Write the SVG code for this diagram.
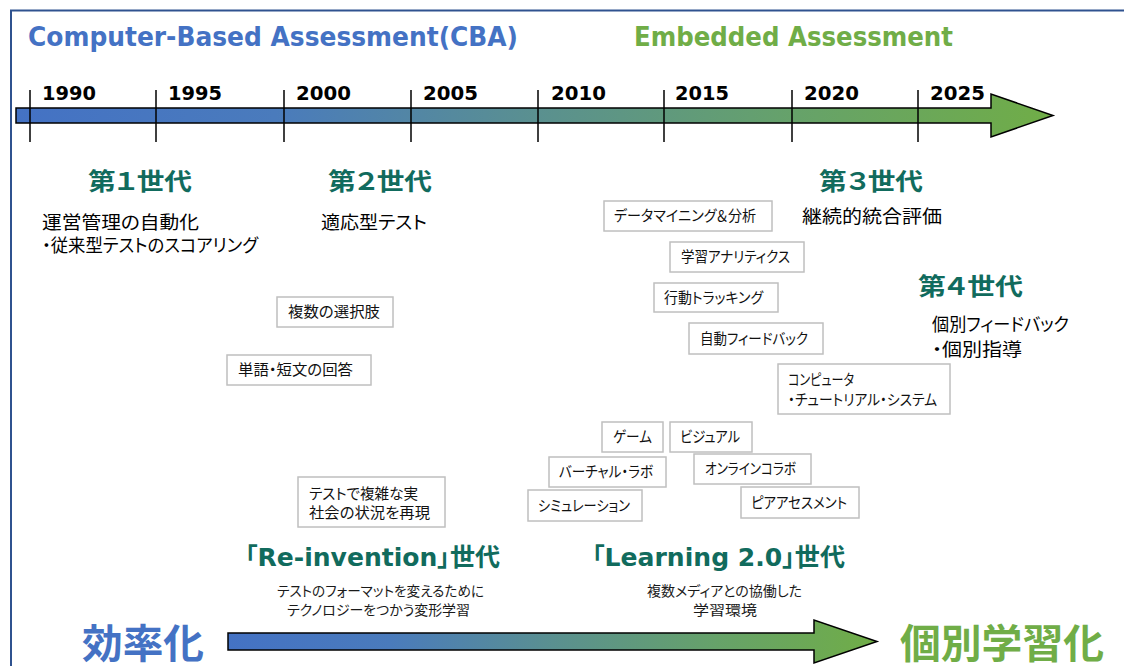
<svg xmlns="http://www.w3.org/2000/svg" width="1124" height="666" viewBox="0 0 1124 666">
  <defs>
    <linearGradient id="gradTop" gradientUnits="userSpaceOnUse" x1="16" y1="0" x2="1053" y2="0">
      <stop offset="0" stop-color="#4472C4"/>
      <stop offset="0.25" stop-color="#4A7BBC"/>
      <stop offset="0.5" stop-color="#5A9090"/>
      <stop offset="0.75" stop-color="#66A26A"/>
      <stop offset="1" stop-color="#70AD47"/>
    </linearGradient>
    <linearGradient id="gradBottom" gradientUnits="userSpaceOnUse" x1="228" y1="0" x2="877" y2="0">
      <stop offset="0" stop-color="#4472C4"/>
      <stop offset="0.25" stop-color="#4A7BBC"/>
      <stop offset="0.5" stop-color="#5A9090"/>
      <stop offset="0.75" stop-color="#66A26A"/>
      <stop offset="1" stop-color="#70AD47"/>
    </linearGradient>
    <style>
      .jp { font-family: "Noto Sans CJK JP", "Noto Sans CJK SC", sans-serif; font-feature-settings: "palt"; }
      .lat { font-family: "DejaVu Sans", "Noto Sans CJK JP", sans-serif; font-weight: 700; }
      .gen { font-weight: 700; font-size: 24px; fill: #116B5D; }
      .era { font-size: 25px; fill: #116B5D; font-feature-settings: "palt"; }
      .body { font-size: 18px; fill: #000; }
      .sub { font-size: 14px; fill: #1a1a1a; }
      .box rect { fill: #fff; stroke: #BFBFBF; stroke-width: 1.5; }
      .box text { font-size: 15px; fill: #111; }
      .year { font-size: 20px; fill: #000; }
      .tick { stroke: #000; stroke-width: 1.5; }
      .arrow { stroke: #000; stroke-width: 1.5; stroke-linejoin: miter; }
      .big { font-weight: 700; font-size: 40px; }
    </style>
  </defs>

  <rect width="1124" height="666" fill="#fff"/>

  <!-- outer frame (left and top edges) -->
  <path d="M11,666 V10.5 H1124" fill="none" stroke="#2F528F" stroke-width="2"/>

  <!-- section titles -->
  <g id="title-cba">
    <text class="lat" x="28" y="46" font-size="26" fill="#4472C4" textLength="490" lengthAdjust="spacingAndGlyphs">Computer-Based Assessment(CBA)</text>
  </g>
  <g id="title-embedded">
    <text class="lat" x="634" y="46" font-size="26" fill="#70AD47" textLength="319" lengthAdjust="spacingAndGlyphs">Embedded Assessment</text>
  </g>

  <!-- arrows and timeline -->
  <g id="connectors">
    <polygon class="arrow" fill="url(#gradTop)" points="16,108 991,108 991,94 1053,115.5 991,137 991,123 16,123"/>
    <g id="ticks">
      <line class="tick" x1="30" y1="90" x2="30" y2="142"/>
      <line class="tick" x1="156" y1="90" x2="156" y2="142"/>
      <line class="tick" x1="284" y1="90" x2="284" y2="142"/>
      <line class="tick" x1="411" y1="90" x2="411" y2="142"/>
      <line class="tick" x1="538" y1="90" x2="538" y2="142"/>
      <line class="tick" x1="664" y1="90" x2="664" y2="142"/>
      <line class="tick" x1="792" y1="90" x2="792" y2="142"/>
      <line class="tick" x1="918" y1="90" x2="918" y2="142"/>
    </g>
    <polygon class="arrow" fill="url(#gradBottom)" points="228,633 814,633 814,620 877,641.5 814,663 814,650 228,650"/>
  </g>

  <g id="years">
    <text class="lat year" x="42" y="100" textLength="54" lengthAdjust="spacingAndGlyphs">1990</text>
    <text class="lat year" x="168" y="100" textLength="54" lengthAdjust="spacingAndGlyphs">1995</text>
    <text class="lat year" x="296" y="100" textLength="55" lengthAdjust="spacingAndGlyphs">2000</text>
    <text class="lat year" x="423" y="100" textLength="55" lengthAdjust="spacingAndGlyphs">2005</text>
    <text class="lat year" x="551" y="100" textLength="55" lengthAdjust="spacingAndGlyphs">2010</text>
    <text class="lat year" x="675" y="100" textLength="54" lengthAdjust="spacingAndGlyphs">2015</text>
    <text class="lat year" x="804" y="100" textLength="55" lengthAdjust="spacingAndGlyphs">2020</text>
    <text class="lat year" x="930" y="100" textLength="55" lengthAdjust="spacingAndGlyphs">2025</text>
  </g>

  <!-- generations -->
  <g id="gen1">
    <text class="jp gen" x="88" y="190" textLength="104" lengthAdjust="spacingAndGlyphs">第１世代</text>
    <text class="jp body" x="42" y="229" textLength="157" lengthAdjust="spacingAndGlyphs">運営管理の自動化</text>
    <text class="jp body" x="42" y="252" textLength="216" lengthAdjust="spacingAndGlyphs">・従来型テストのスコアリング</text>
  </g>
  <g id="gen2">
    <text class="jp gen" x="328" y="190" textLength="104" lengthAdjust="spacingAndGlyphs">第２世代</text>
    <text class="jp body" x="321" y="229" textLength="106" lengthAdjust="spacingAndGlyphs">適応型テスト</text>
  </g>
  <g id="gen3">
    <text class="jp gen" x="819" y="190" textLength="104" lengthAdjust="spacingAndGlyphs">第３世代</text>
    <text class="jp body" x="802" y="223" textLength="140" lengthAdjust="spacingAndGlyphs">継続的統合評価</text>
  </g>
  <g id="gen4">
    <text class="jp gen" x="918" y="295" textLength="105" lengthAdjust="spacingAndGlyphs">第４世代</text>
    <text class="jp body" x="932" y="331" textLength="137" lengthAdjust="spacingAndGlyphs">個別フィードバック</text>
    <text class="jp body" x="932" y="356" textLength="90" lengthAdjust="spacingAndGlyphs">・個別指導</text>
  </g>

  <!-- feature boxes -->
  <g id="box-multiple-choice" class="box jp">
    <rect x="277" y="297" width="116" height="30"/>
    <text x="288" y="317" textLength="92" lengthAdjust="spacingAndGlyphs">複数の選択肢</text>
  </g>
  <g id="box-short-answer" class="box jp">
    <rect x="227" y="355" width="144" height="30"/>
    <text x="238" y="375" textLength="115" lengthAdjust="spacingAndGlyphs">単語・短文の回答</text>
  </g>
  <g id="box-data-mining" class="box jp">
    <rect x="604" y="201" width="168" height="30"/>
    <text x="614" y="221" textLength="142" lengthAdjust="spacingAndGlyphs">データマイニング＆分析</text>
  </g>
  <g id="box-learning-analytics" class="box jp">
    <rect x="670" y="242" width="134" height="30"/>
    <text x="681" y="262" textLength="109" lengthAdjust="spacingAndGlyphs">学習アナリティクス</text>
  </g>
  <g id="box-behavior-tracking" class="box jp">
    <rect x="654" y="283" width="124" height="29"/>
    <text x="664" y="303" textLength="99" lengthAdjust="spacingAndGlyphs">行動トラッキング</text>
  </g>
  <g id="box-auto-feedback" class="box jp">
    <rect x="689" y="323" width="134" height="31"/>
    <text x="700" y="344" textLength="108" lengthAdjust="spacingAndGlyphs">自動フィードバック</text>
  </g>
  <g id="box-tutorial-system" class="box jp">
    <rect x="778" y="364" width="172" height="50"/>
    <text x="788" y="385" textLength="66" lengthAdjust="spacingAndGlyphs">コンピュータ</text>
    <text x="788" y="405" textLength="149" lengthAdjust="spacingAndGlyphs">・チュートリアル・システム</text>
  </g>
  <g id="box-game" class="box jp">
    <rect x="602" y="422" width="61" height="30"/>
    <text x="613" y="442" textLength="39" lengthAdjust="spacingAndGlyphs">ゲーム</text>
  </g>
  <g id="box-visual" class="box jp">
    <rect x="670" y="422" width="82" height="30"/>
    <text x="680" y="442" textLength="60" lengthAdjust="spacingAndGlyphs">ビジュアル</text>
  </g>
  <g id="box-virtual-lab" class="box jp">
    <rect x="549" y="457" width="117" height="30"/>
    <text x="559" y="477" textLength="94" lengthAdjust="spacingAndGlyphs">バーチャル・ラボ</text>
  </g>
  <g id="box-online-collab" class="box jp">
    <rect x="694" y="454" width="117" height="30"/>
    <text x="705" y="474" textLength="91" lengthAdjust="spacingAndGlyphs">オンラインコラボ</text>
  </g>
  <g id="box-simulation" class="box jp">
    <rect x="528" y="490" width="114" height="31"/>
    <text x="538" y="511" textLength="92" lengthAdjust="spacingAndGlyphs">シミュレーション</text>
  </g>
  <g id="box-peer-assessment" class="box jp">
    <rect x="741" y="487" width="118" height="31"/>
    <text x="751" y="508" textLength="96" lengthAdjust="spacingAndGlyphs">ピアアセスメント</text>
  </g>
  <g id="box-real-world" class="box jp">
    <rect x="298" y="477" width="147" height="50"/>
    <text x="309" y="499" textLength="109" lengthAdjust="spacingAndGlyphs">テストで複雑な実</text>
    <text x="309" y="518" textLength="121" lengthAdjust="spacingAndGlyphs">社会の状況を再現</text>
  </g>

  <!-- era labels -->
  <g id="era-reinvention">
    <text class="lat era" x="245" y="566" textLength="255" lengthAdjust="spacingAndGlyphs">「Re-invention」世代</text>
    <text class="jp sub" x="277" y="596" textLength="207" lengthAdjust="spacingAndGlyphs">テストのフォーマットを変えるために</text>
    <text class="jp sub" x="287" y="615" textLength="183" lengthAdjust="spacingAndGlyphs">テクノロジーをつかう変形学習</text>
  </g>
  <g id="era-learning2">
    <text class="lat era" x="592" y="566" textLength="253" lengthAdjust="spacingAndGlyphs">「Learning 2.0」世代</text>
    <text class="jp sub" x="647" y="596" textLength="155" lengthAdjust="spacingAndGlyphs">複数メディアとの協働した</text>
    <text class="jp sub" x="693" y="615" textLength="64" lengthAdjust="spacingAndGlyphs">学習環境</text>
  </g>

  <!-- end labels of the bottom arrow -->
  <g id="label-efficiency">
    <text class="jp big" x="82" y="658" fill="#4472C4" textLength="122" lengthAdjust="spacingAndGlyphs">効率化</text>
  </g>
  <g id="label-personalized">
    <text class="jp big" x="900" y="658" fill="#70AD47" textLength="204" lengthAdjust="spacingAndGlyphs">個別学習化</text>
  </g>
</svg>
